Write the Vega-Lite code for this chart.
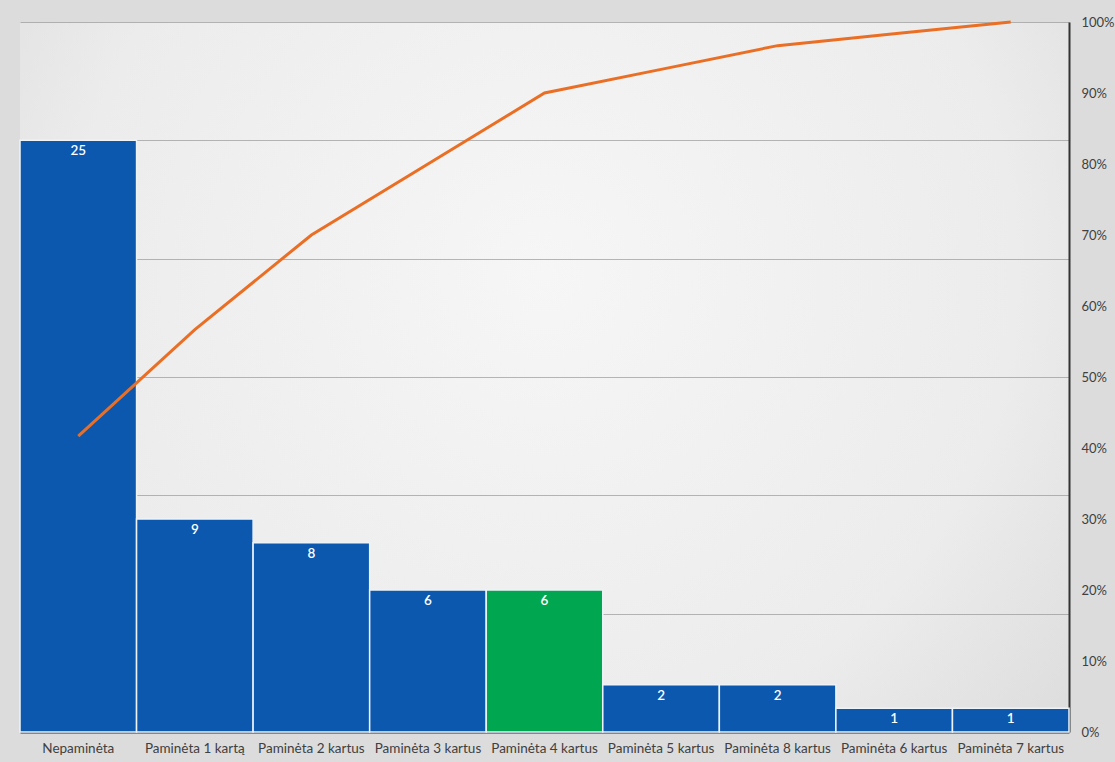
{
  "$schema": "https://vega.github.io/schema/vega-lite/v6.json",
  "width": 1049,
  "height": 710,
  "autosize": {"type": "none"},
  "padding": {"left": 20, "top": 22, "right": 46, "bottom": 30},
  "background": "#dcdcdc",
  "config": {
    "font": "Lato",
    "view": {
      "stroke": null,
      "fill": {
        "gradient": "radial",
        "x1": 0.5, "y1": 0.4, "r1": 0, "x2": 0.5, "y2": 0.4, "r2": 0.75,
        "stops": [
          {"offset": 0, "color": "#f6f6f6"},
          {"offset": 0.6, "color": "#ececec"},
          {"offset": 1, "color": "#d6d6d6"}
        ]
      }
    }
  },
  "data": {
    "values": [
      {"cat": "Nepaminėta", "n": 25, "cum": 0.4167, "hl": "n"},
      {"cat": "Paminėta 1 kartą", "n": 9, "cum": 0.5667, "hl": "n"},
      {"cat": "Paminėta 2 kartus", "n": 8, "cum": 0.70, "hl": "n"},
      {"cat": "Paminėta 3 kartus", "n": 6, "cum": 0.80, "hl": "n"},
      {"cat": "Paminėta 4 kartus", "n": 6, "cum": 0.90, "hl": "y"},
      {"cat": "Paminėta 5 kartus", "n": 2, "cum": 0.9333, "hl": "n"},
      {"cat": "Paminėta 8 kartus", "n": 2, "cum": 0.9667, "hl": "n"},
      {"cat": "Paminėta 6 kartus", "n": 1, "cum": 0.9833, "hl": "n"},
      {"cat": "Paminėta 7 kartus", "n": 1, "cum": 1.0, "hl": "n"}
    ]
  },
  "encoding": {
    "x": {
      "field": "cat", "type": "nominal", "sort": null,
      "scale": {"paddingInner": 0, "paddingOuter": 0},
      "axis": {
        "title": null, "labelAngle": 0, "domain": true, "domainColor": "#1f3550", "domainWidth": 2,
        "ticks": false, "labelPadding": 9, "labelFontSize": 13.5, "labelColor": "#404040"
      }
    }
  },
  "layer": [
    {
      "layer": [
        {
          "mark": {"type": "bar", "stroke": "#eef3f8", "strokeWidth": 1.5},
          "encoding": {
            "y": {
              "field": "n", "type": "quantitative",
              "scale": {"domain": [0, 30], "nice": false},
              "axis": {
                "title": null, "labels": false, "ticks": false, "domain": false,
                "values": [0, 5, 10, 15, 20, 25, 30],
                "gridColor": "#8a8a8a", "gridOpacity": 0.6, "gridWidth": 1
              }
            },
            "color": {
              "field": "hl", "type": "nominal",
              "scale": {"domain": ["n", "y"], "range": ["#0b58ae", "#00a650"]},
              "legend": null
            }
          }
        },
        {
          "mark": {"type": "text", "baseline": "top", "dy": 4, "color": "white", "fontWeight": 600, "fontSize": 13.5},
          "encoding": {
            "y": {"field": "n", "type": "quantitative"},
            "text": {"field": "n", "type": "quantitative"}
          }
        }
      ]
    },
    {
      "mark": {"type": "line", "color": "#ea6f25", "strokeWidth": 3},
      "encoding": {
        "y": {
          "field": "cum", "type": "quantitative",
          "scale": {"domain": [0, 1], "nice": false},
          "axis": {
            "orient": "right", "format": ".0%", "grid": false, "title": null,
            "values": [0, 0.1, 0.2, 0.3, 0.4, 0.5, 0.6, 0.7, 0.8, 0.9, 1],
            "domainColor": "#333333", "domainWidth": 2, "ticks": false,
            "labelPadding": 12, "labelFontSize": 13, "labelColor": "#404040"
          }
        }
      }
    }
  ],
  "resolve": {"scale": {"y": "independent"}}
}
